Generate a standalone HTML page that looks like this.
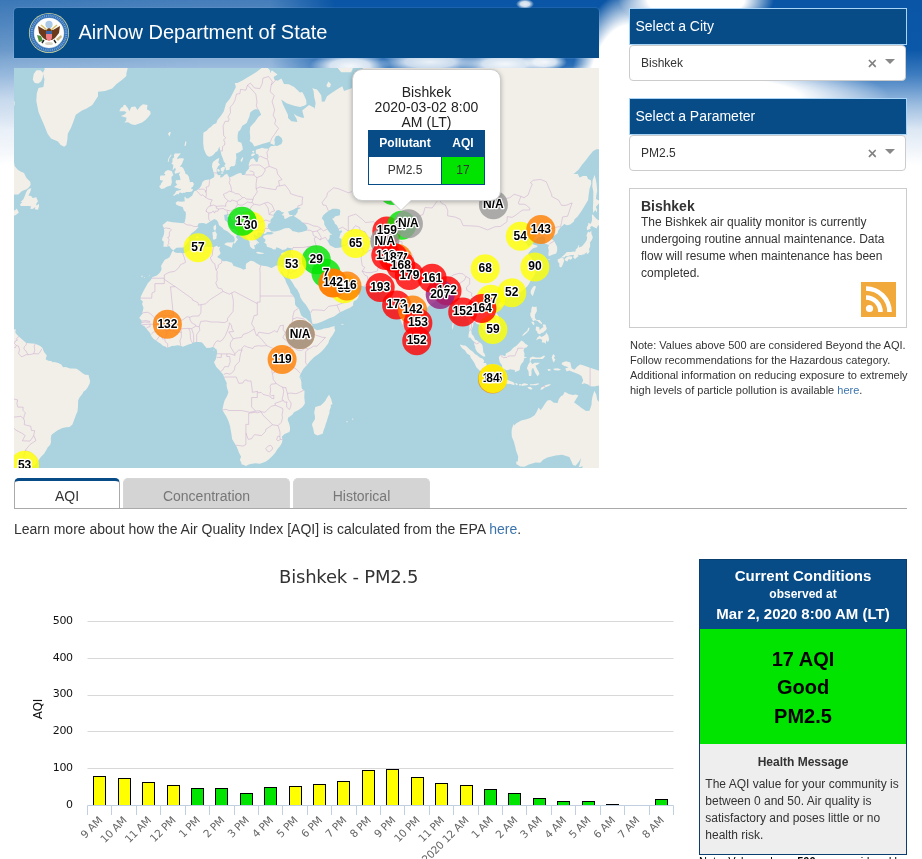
<!DOCTYPE html>
<html lang="en">
<head>
<meta charset="utf-8">
<title>AirNow Department of State</title>
<style>
*{box-sizing:border-box;}
html,body{margin:0;padding:0;}
body{width:922px;height:859px;overflow:hidden;position:relative;background:#fff;font-family:"Liberation Sans",Arial,sans-serif;color:#333;font-size:12px;}
a{color:#3b74ad;text-decoration:none;}
.abs{position:absolute;}
#sky{position:absolute;left:0;top:0;width:922px;height:230px;
 background:linear-gradient(to bottom,#0a55a5 0px,#0c58a8 50px,#3f7dc0 75px,#9dbde0 105px,#dde8f4 130px,#fff 165px);}
#skyL{position:absolute;left:0;top:0;width:340px;height:230px;
 background:linear-gradient(to bottom,rgba(255,255,255,.24) 0px,rgba(255,255,255,.36) 30px,rgba(255,255,255,.5) 60px,rgba(255,255,255,.6) 100px,rgba(255,255,255,0) 200px);
 -webkit-mask-image:linear-gradient(to right,rgba(0,0,0,.85) 0px,#000 200px,#000 270px,transparent 335px);mask-image:linear-gradient(to right,rgba(0,0,0,.85) 0px,#000 200px,#000 270px,transparent 335px);}
#skyC{position:absolute;left:0;top:0;width:922px;height:230px;
 background:
  radial-gradient(ellipse 78px 30px at 696px 0px,#fff 0,#fff 62%,rgba(255,255,255,0) 100%),
  radial-gradient(ellipse 9px 5px at 525px 4px,rgba(255,255,255,.9) 0,rgba(255,255,255,.8) 50%,rgba(255,255,255,0) 100%),
  radial-gradient(ellipse 62px 125px at 630px 115px,#fff 0,#fff 72%,rgba(255,255,255,0) 100%),
  radial-gradient(ellipse 200px 40px at 690px 98px,#fff 0,#fff 55%,rgba(255,255,255,0) 100%),
  radial-gradient(ellipse 40px 14px at 350px 66px,rgba(255,255,255,.95) 0,rgba(255,255,255,.8) 50%,rgba(255,255,255,0) 100%),
  radial-gradient(ellipse 50px 12px at 430px 62px,rgba(255,255,255,.9) 0,rgba(255,255,255,.75) 50%,rgba(255,255,255,0) 100%),
  radial-gradient(ellipse 45px 13px at 505px 64px,rgba(255,255,255,.95) 0,rgba(255,255,255,.8) 50%,rgba(255,255,255,0) 100%),
  radial-gradient(ellipse 22px 9px at 545px 62px,rgba(255,255,255,.95) 0,rgba(255,255,255,.8) 50%,rgba(255,255,255,0) 100%);}
#hdr{left:14px;top:8px;width:585px;height:50px;background:#054b87;border-radius:4px 4px 0 0;color:#fff;box-shadow:0 0 0 1px rgba(200,230,252,.1);}
#hdr .t{position:absolute;left:64.5px;top:12.5px;font-size:20px;line-height:23px;white-space:nowrap;}
#seal{position:absolute;left:14px;top:4px;}
#map{left:14px;top:68px;width:585px;height:400px;background:#aad3df;overflow:hidden;}
#map svg{position:absolute;left:0;top:0;}
.mk text{font:bold 12px "Liberation Sans",Arial,sans-serif;text-anchor:middle;fill:#000;stroke:#fff;stroke-width:2.6px;paint-order:stroke;stroke-linejoin:round;}
#popup{left:338px;top:1px;width:149px;height:132px;background:#fff;border:1px solid #ccc;border-radius:10px;box-shadow:0 1px 5px rgba(0,0,0,.28);text-align:center;font-size:14px;line-height:15px;color:#222;padding-top:14.6px;letter-spacing:.08px;}
#popup:after,#popup:before{content:"";position:absolute;top:100%;border:solid transparent;height:0;width:0;}
#popup:after{border-top-color:#fff;border-width:10px;left:48px;margin-left:-10px;}
#popup:before{border-top-color:#ccc;border-width:11px;left:48px;margin-left:-11px;}
#ptab{position:absolute;left:15px;top:60.3px;width:117px;letter-spacing:0;border-collapse:collapse;font-size:12px;line-height:14px;}
#ptab th{background:#074b87;color:#fff;font-weight:bold;height:26px;padding:0 0 2px;border:1px solid #074b87;}
#ptab td{height:28px;padding:0 0 2px;border:1px solid #074b87;background:#fff;color:#333;}
.lab{background:#074b87;color:#fff;font-size:14px;line-height:16px;padding:9px 5.4px;height:37px;width:278px;left:629px;border:1px solid #a9d6f8;}
.sel{left:629px;width:277px;height:36px;background:#fff;border:1px solid #ccc;border-radius:4px;font-size:12px;line-height:34px;padding-left:11px;color:#333;}
.sel .x{position:absolute;left:237.6px;top:0;font-size:16.5px;line-height:35.4px;color:#7d7d7d;-webkit-text-stroke:.35px #7d7d7d;}
.sel .ar{position:absolute;left:255px;top:13.2px;width:0;height:0;border:5px solid transparent;border-top-color:#888;border-bottom-width:0;}
#info{left:629px;top:188px;width:278px;height:140px;border:1px solid #ccc;background:#fff;padding:8.8px 11px 0;font-size:12px;line-height:17px;color:#333;}
#info b{display:block;font-size:14px;line-height:16.6px;color:#333;}
#rss{left:861px;top:282px;width:35px;height:35px;}
#note{left:630px;top:338px;width:290px;font-size:11px;line-height:15px;color:#333;}
.tab{top:478px;height:31px;border:1px solid #d6d6d6;border-bottom:none;border-radius:5px 5px 0 0;background:#d4d4d4;color:#777;font-size:14px;line-height:16px;text-align:center;padding-top:9px;}
.tab.act{background:#fff;border:1px solid #aaa;border-bottom:none;border-top:3px solid #074b87;color:#333;padding-top:7px;}
#tabline{left:14px;top:508px;width:893px;height:1px;background:#aaa;}
#learn{left:14px;top:521px;font-size:14px;line-height:16px;color:#333;white-space:nowrap;}
#chart{left:0;top:550px;}
#chart text{font-family:"DejaVu Sans","Liberation Sans",sans-serif;}
#cc{left:699px;top:559px;width:208px;height:296px;border:1px solid #0a3e70;background:#eee;}
#cc .h{height:69px;background:#074b87;color:#fff;text-align:center;font-weight:bold;font-size:15px;padding-top:6px;}
#cc .h div{line-height:19px;}
#cc .g{height:115px;background:#00e400;color:#000;text-align:center;font-weight:bold;font-size:20px;line-height:28.3px;padding-top:16.1px;}
#cc .hm{text-align:center;font-weight:bold;font-size:12px;line-height:14px;color:#333;padding-top:11px;}
#cc .p{padding:7px 5px 0 5.3px;font-size:12px;line-height:17px;color:#333;}
#note2{left:699px;top:853.9px;width:215px;font-size:11px;line-height:15px;color:#000;white-space:nowrap;}
</style>
</head>
<body>
<div id="sky"></div><div id="skyL"></div><div id="skyC"></div>
<div id="hdr" class="abs">
<svg id="seal" width="42" height="42" viewBox="-21 -21 42 42">
<circle r="20.1" fill="#cfd59a"/><circle r="19.3" fill="#2d6db2"/><circle r="17.3" fill="none" stroke="#9dbfe6" stroke-opacity=".65" stroke-width="2.2" stroke-dasharray="1 .9"/><circle r="15.4" fill="#7fa6d3"/><circle r="14.9" fill="#fdfdfb"/>
<circle cx="0" cy="-8.6" r="3.6" fill="#a9c9e6"/><circle cx="0" cy="-3.4" r="1.7" fill="#f4f1e8"/>
<path d="M-11,-7 L-4,-3 L0,-5 L4,-3 L11,-7 L10,0 L6,5 L3,7 L-3,7 L-6,5 L-10,0Z" fill="#6b3a1c"/>
<path d="M-8,-8 L-2,-3 M8,-8 L2,-3" stroke="#d8c26a" stroke-width="1.6"/>
<path d="M-3,-2 h6 v3 h-6z" fill="#3a66a8"/>
<path d="M-3,1 h6 v3 q0,3 -3,4 q-3,-1 -3,-4z" fill="#ef7f86"/>
<path d="M-12,2 l4,1 l2,5 l-4,1 z" fill="#4d8f3a"/>
<path d="M7,6 l5,-4 l1,2 l-4,4z" fill="#c9b98a"/>
<path d="M-5,7 l-2,3 M5,7 l2,3" stroke="#222" stroke-width="1.4"/>
<ellipse cx="0" cy="10.5" rx="4" ry="1.6" fill="#d9d3c6"/>
</svg>
<div class="t">AirNow Department of State</div></div>

<div id="map" class="abs">
<svg width="585" height="400" viewBox="0 0 585 400">
<path fill="#f2efe9" d="M601.7,-20 601.7,79.8 590.3,81 582.3,81.2 578.9,83.2 574.6,88.6 571.8,92.3 568,96.8 564.7,101.6 561.3,104.6 559.6,106.1 563.8,106.1 565.5,109.5 569,108 572.7,108 574.1,110.9 576.9,112.3 577.2,115.7 575.5,121 574.6,127.5 574.1,131.9 570.4,138.3 567.5,142.9 563.6,148.4 560.4,151.4 559.9,153.5 556.2,156.5 553,157.2 550.2,156.1 548.2,158 546.6,159.2 544.2,162.6 543.6,165.3 539.7,167.9 538,168.6 537.5,170.8 540.2,173 543.1,178.8 543.2,182.3 542.2,185.5 539.1,186.5 534.8,188.2 534.3,186.5 534.8,182.3 534,179.5 535.1,177 530.6,175.5 531.4,172.6 531.1,169.7 528.8,168.2 524.9,169.3 520.9,171.9 519.5,171.6 521.7,167.9 522.6,165.6 519.2,164.5 515.2,168.2 510.6,170.8 509.8,171.6 509.5,173.7 513.2,175.9 514.1,178.4 516.3,177.3 518.3,175.9 520.3,176.8 523.4,177.7 523.2,179.1 519.2,180.2 517.2,182.1 514.9,184.4 514.1,186.5 517.2,189.3 518.9,192.7 521.2,196 521.7,197 521.7,199.7 518.9,201.4 520.9,202.7 522,203.3 520.9,206.3 519.2,209.2 517.2,211.7 515.2,215.6 513.5,218.1 511.2,220.3 506.9,224 503.5,225.9 499.8,227.1 497.8,227.4 495,228.6 492.2,229.6 489,230.5 489.3,233.2 487.6,233.2 487,229.9 485.3,229.6 483.1,229.3 481.9,229.6 478.8,231.7 477.9,233.5 476.2,236.2 475.8,238 477.9,241.3 479.6,243.1 481.3,244.6 482.9,245.8 484.8,248.2 485.8,252.6 486.2,255.5 485.6,258.1 484.8,259.8 482.5,261 479.6,262.6 478.5,264.2 477.1,265.6 474.5,267.1 473,267.6 473.2,265.1 473.8,263.6 472.2,262.5 470.8,262 469.4,261.9 468,259.3 466.6,257.5 465.1,256.4 463.1,255.9 462,255.2 461.2,253.4 459.4,254 459.3,256.4 458.9,258.4 457.2,262.2 457.7,265.9 459.7,268.2 461.2,271.7 463.1,272.5 464.8,274 466,274.5 468.4,277 469.1,281.4 469.3,284.2 470.4,285.4 471.5,288.2 470.3,288.5 469.4,288.5 465.8,285.9 464.6,285.1 463.1,283.7 461.4,280.8 461.2,278.5 460.3,276.8 460.3,274.2 459.6,273.4 457.5,271.1 456.3,269.4 454.6,269.7 454.5,267.1 455.2,263.9 455.5,256.7 454.3,251.7 453.2,248.2 452.6,244.6 450.9,242.5 449.5,244.3 448.9,244.6 446.1,246.7 444.1,246.4 443.1,246.1 443.5,242.2 443.2,237.7 441,235.3 439.2,233.8 437.5,231.7 436.7,229.9 436.1,227.1 434.4,226.2 432.7,228 429.6,228.9 427,229.3 425.3,228.9 423.3,229.6 422.2,231.7 421.6,233.2 419.1,234.7 417.1,236.2 416.5,236.5 411.9,241 409.1,243.4 409.1,244.6 406,246.4 403.4,248.2 402.8,250.8 403.4,254.6 402.1,258.1 402.1,261.3 402.1,262.7 400.6,262.7 399.7,264.8 400.3,265.6 397.3,267.1 395.6,269.1 393.7,267.9 391.7,263.8 390.5,260 387.8,255.2 385.8,249.6 384.9,247.9 383.5,243.1 382.1,237.3 381.9,234.7 382.1,232.9 381.6,230.8 381.2,227.4 380.4,228.8 378.1,231.5 377,232 375.1,231.4 373,229.1 371.1,227.3 371.6,226.5 374.7,226.2 375.2,224.9 372.3,225.6 370.1,224 369,222.8 367,222.2 366.1,220 365.4,219.3 364.4,217.5 360.7,217.6 358.8,218.1 355.6,217.9 352.2,218.4 350.5,218.4 347.4,217.8 342.8,217.5 339.4,216.7 337.4,214 336.6,212.1 335.1,211.9 331.2,213.8 326.6,213.3 324.6,211.1 323.2,209.8 319.6,206.1 317.8,202.7 314.9,201 313.2,202.8 311.5,204.6 311,204.8 311.5,204.8 312.7,207.6 314.1,210.5 316.2,212.4 317.8,214.1 317.8,216.8 319.5,219.5 319.5,217.1 320.6,215.1 321.6,217.8 321.8,220 320.9,220.9 324.6,221.2 327.5,221.5 329.7,220.3 332.3,217.8 334.3,216 335.4,214.5 335.3,216.8 335.3,218.4 336.4,220.8 341.5,223.1 342.8,224.9 344.4,226.3 345.1,226.5 344,229.9 342.3,232 340,232.9 339.1,235.2 339.1,237.4 336,239.8 332,241.6 328.9,243.1 326,244.2 323.5,246.1 320.1,248.4 314.7,250.5 311.5,252 307.8,253.7 303,255.5 298.7,255.9 298,254 297.2,249.6 296.7,246.1 296,243.4 293,238.6 291.9,236.8 288.8,233.2 286.4,229.6 285.6,226.2 283.2,221.5 280.8,218.7 278.7,214.9 276.3,211.4 274.6,209.2 274,208.9 274.6,204.3 274.3,204.3 273.1,208.2 272.6,210 270.6,208.2 268.9,205.9 267.6,202.8 267.2,204.3 268,206.3 269.4,208.5 271.3,211.6 271.7,213.3 272.6,215.3 274.3,218.6 276,222.2 276.5,224.9 279.2,227.4 280.8,231.1 281,235.3 281.2,236.8 283.1,239.2 284.8,240.1 285.9,243.7 287.2,247.3 289.3,249.2 292.2,250.5 294.5,252.9 296.6,254.9 298.2,256.4 298.2,258 296.2,259.1 297.7,259 298.7,259.7 303,262.3 307.3,261.4 310.1,260.4 312.1,260.3 314.9,259.8 318.6,258.5 320.9,258.3 320.4,260.1 321.2,262.3 319.8,265.1 318.1,267.9 316.8,269.4 315.2,272.2 314.4,275.1 313,277 310.1,280.8 307.3,283.7 304,286.4 302.4,287.4 300.2,289.1 296,293.2 293.3,296.8 291.3,298.7 289.1,301.3 287.8,303.7 286.2,306.7 285.4,309.3 286.8,311.6 287.4,314.5 287.4,317.6 287.9,320.8 289.3,321.7 290.5,322.8 290.3,329.5 290.8,334 290.9,335.5 288.5,338.9 284.5,341.9 280,344.3 278.3,346.7 274.1,349.8 273.7,352.1 274.8,354.8 275.4,356.4 276,359.5 276,362.1 275.4,364.1 270.6,366 267.7,368.7 268.6,371.5 268,374.6 266.3,377.8 263.3,381.2 261.6,384.2 258.9,387.4 254.4,391.7 251.5,393.8 248,395 245.7,395.8 241.6,395.3 238,395.8 234.7,396.5 231.9,398 229.9,396.9 227.5,396.3 227.3,394.8 225.9,391.7 227.1,388.7 225.1,385 224.2,382.7 222.9,379.3 221.8,377.2 218.1,370.9 217.4,365.7 216.2,359.3 216.2,358.5 214.5,353.3 212.5,348.8 210.6,345.8 208.4,342 209.6,336 210.6,332.4 213.1,328 214.4,324.3 213.1,320.2 212.5,317.3 212.8,315 211.4,312.2 210.1,309.6 209.7,308 208.7,305.9 206.3,303.3 205.3,301.9 202.3,299 200,294.2 201.9,291.1 202.3,289.4 202.7,286.9 203.2,283.8 202.3,281.1 201.2,280.8 200.3,279.4 198.6,279.1 196.3,279.7 192.6,280 190.4,277.4 189.2,275.7 187.5,274.2 184.7,274 181.8,274.1 178.4,274.8 177.6,275.7 174.4,276.4 171.4,277.7 170,278.2 169,278.7 166.5,277.7 163.6,277.2 160.8,277.7 157.6,278.1 156.2,278.7 153.1,279.8 150.8,278.2 149.3,278 146.4,275.4 144.3,274.2 142.7,273 139.4,270.8 137.3,267.9 136,265.1 133.5,261.9 132.3,260.7 130.6,258.3 128.4,257.2 127.2,256.4 127.8,253.6 127.2,252 125.2,249.9 128.1,246.1 129.5,239.8 128.1,235.9 128.9,233.5 126.5,231.4 126.9,228.3 129.6,222.8 133.8,215.3 136.9,212.1 138.2,209.3 142.9,207.6 146,204.6 147.6,201.4 147.1,197.7 148.7,195 150.8,191.8 153.4,190.6 155.5,189.3 157.5,185.1 158.5,183 159.8,182.7 159.1,182.3 157.1,180.5 155.2,178.1 152.5,178.8 149.4,178.8 149.7,175.4 149.7,173.4 148,172.3 148.3,170.3 149.7,167.3 150.3,163.6 149.7,159.6 148.5,156.9 151.1,154.9 153.1,153.3 158.8,154.3 164.2,154.7 166.5,155.1 169.3,155.3 170.6,154.5 171.6,150 171.9,146.1 171.7,143.9 169.9,142.4 168.7,139.1 166.2,138.3 162.6,137 161.5,134.7 163.6,133.2 167.2,133.8 169.3,133.4 170.7,133.4 170.4,129 171.4,128.8 171.9,130.3 174.1,130.6 175.3,129.7 178.1,127.7 179.6,124.4 180.3,123.2 181.8,122.8 183.2,121.9 185,120.7 187.1,118 188.5,114 190.6,112.3 194.6,111.6 195.2,111.9 197.8,110.4 199.7,109.5 200.3,108.5 200.3,106.6 199.5,104.6 198.9,101.6 198,99.1 198.3,95.5 199.5,93.4 203.3,90.8 205.2,90 205,91.5 204.3,94.4 206,96.8 204,98.3 202.6,101.6 202.9,105.1 203.9,107.3 206.6,107 206,109.2 207.6,109.5 209.4,108.3 210.6,106.8 213.1,105.8 214,107.5 215.5,109.5 219.2,108 221.9,106.6 224.8,105.3 227.3,105.1 228,107 230.5,107 231.6,105.8 231.7,104.3 235,100.6 234.7,96.5 236.3,91.8 239.3,90 241,92.3 242.1,93.9 243.6,93.7 244.4,90.2 244.7,86.7 241.8,85.4 241.8,83.5 241.8,81.9 243.4,81.2 245.4,80.7 248.4,79.8 250.4,80.4 254.8,80.7 256.1,78.7 257.6,78.1 260.9,78.1 259.5,76.7 256.4,75.6 256.6,73.5 251.7,75 248,75.9 246,76.7 240.3,78.6 238.3,75 235.6,73 236.2,71.2 236.2,68.2 235.7,64.3 236.2,59 239.6,55.2 240.7,54.3 244.5,48.7 247.2,46.7 244.8,41.6 243.7,41.2 240.8,41.2 238,42.9 236.2,44.7 235.3,48.7 232.7,54.9 228.3,57.8 226.1,62.2 224.4,63.4 223.6,67.6 223.6,70 223.9,73.5 227.3,74.7 228.5,78.7 228.8,81.5 226.1,83.7 223.6,85.1 221.9,85.4 222.4,90 221.8,92.6 221.5,95.7 220.5,98 219.4,98.3 217.2,98.3 215.7,99.6 215.8,101.3 214.3,102.1 212.4,102.3 211.6,102.1 212,101.1 211.1,98.8 210.4,97.5 211.6,95.7 209.8,93.4 208.8,90.2 207.4,87 206.7,83.5 206.1,82.3 205.4,78.4 203.4,83.2 201.7,84 199.9,86.2 197.8,88.1 195.1,88.7 193.6,88.1 192.1,86.2 190.9,83.5 189.9,81 189.2,75.3 189.2,71.2 189.2,68.2 189.5,64.6 192.4,63.1 194.9,60.3 196.9,59 199.2,56.5 202.3,55.2 203.4,52 206.9,47.7 209.7,43.6 210.8,39.8 212,35.6 216,30.5 218.8,25.3 221.9,19.1 220.8,15.1 223.4,15.1 228.9,12.3 233.3,9.4 237.6,6.9 242.4,3.9 248.4,-0.6 253.8,0 256.1,2.6 256.1,5.2 257.8,2.2 263.5,6.4 259.6,9 260.5,11.8 263.7,12.7 267.4,10.6 270,15.9 274.8,16.3 280.2,19.1 285.9,24.5 288.2,24.1 290.2,27.5 292.2,32.3 292.5,36.3 290.2,37.7 285.9,39.1 280.2,37.7 272.6,35.2 267.2,31.6 268.9,36.3 274,47 274,50 277.4,53.3 283.4,53.9 282.5,50.7 279.7,45.7 283.1,48 288.2,49.7 290.2,49.7 288.8,44.7 288.2,42.6 291.6,39.8 295,37 300.2,39.8 300.7,40.9 301.6,34.9 300.2,29 299.6,23 298.2,20.3 303,21.4 305.8,25.3 307.3,27.5 307.8,33.8 310.7,33.4 313,28.3 317.2,25.3 322.9,21.4 328.3,18.3 330,23 337.1,20.6 340,19.1 344.2,22.2 347.1,17.5 347.4,11.8 351.4,-20Z"/>
<path fill="#aad3df" d="M159.8,182 162.5,179.8 168.2,179.5 169,179.8 172.2,176.6 175.6,172.6 174.1,169.7 177.6,165.3 181.3,162.6 184.4,159.2 183.5,157.2 185,155.3 188.7,154.9 190.4,155.3 192.1,156.1 195.8,153.7 200.3,151 202.9,152.2 204.3,154.5 204.9,156.9 208.6,159.9 209.7,161.5 213.7,163.4 215.4,164.9 217.7,167.1 219.4,167.9 220.5,170.1 220.8,172.6 219.5,174.5 219.7,175.4 220.8,175.4 222.2,173.4 223.9,171.6 221.9,169 223.1,166.4 223.9,166 226.2,168.1 227.6,167.5 226.2,165.4 223.1,163.7 221.1,160.7 218,160.5 215.4,158.4 213.4,154.1 210.8,152.2 210.3,148.6 210,146.9 214.3,146.1 213.4,148.6 214.5,149.4 216,147.3 218.2,152.2 221.6,154.5 226.5,157.8 229.3,159.9 230.3,163 230.2,166.2 231.9,169 233.9,171.6 235.6,174.1 235.6,176.3 236.4,179.1 239,180.9 241,180.7 240.1,177 241.8,177.2 242.3,175.4 243.3,176.4 243.6,174.5 240.4,171.9 241.3,170.5 240.1,169.3 239.3,167.9 240.1,165.6 241.6,166.9 243.1,168.1 244.4,167.3 242.7,165.6 244.4,164.5 248.7,164.7 249.5,165.6 250.9,166 253.2,164.1 257.2,163.9 260,165.1 257.2,166.6 253.2,166.6 249.5,167.7 249.2,169.7 251.5,171.6 251.2,173.7 249.8,174.1 252.4,176.3 252.9,178.8 255.5,179.5 257.8,180.2 259.2,181.6 261.8,181.3 262.3,179.3 266,180.5 268.3,182.1 271.7,181.3 273.4,179.5 276.3,180.2 278,180.2 277.1,182.3 276.8,184.1 276.8,187.7 276,189.6 274.6,193.3 273.8,195.9 273,197.7 272.3,198.4 271.1,199 268.9,199.2 266.9,198.4 265.5,197.7 263.2,197.4 261.3,197.7 260,198.7 257.5,199.9 252.7,198.2 246.7,197.4 243.3,195.7 240.7,194 239.3,193.3 236.4,192.8 232,195.7 231.7,199.4 232.2,200.4 229.6,201.7 226.2,200 222.2,198.7 219.4,197.7 218,194.7 215.7,194 212.5,193 209.1,193.2 207.7,192.2 206.6,191 203.4,189.3 203.7,188.2 205.7,186.8 206.6,185.1 205.7,183 205.2,180.9 206.4,178.6 204.3,179.3 203,177.7 200,178.9 197,179.1 194.6,179.1 192.9,178.6 189.5,179.7 186.4,179.1 183.7,179.5 180.7,180.2 178.7,180.5 175.3,182.5 173.2,183.4 171.3,184.8 168.7,185.5 166.6,184.8 163.9,184.9 161.3,184.6 159.9,183.7 159.8,182.7 159.1,182.3ZM257.5,163.4 254.6,160.7 253.5,158.4 254.5,155.7 256.4,154.9 256.5,151.8 259.5,148.6 259.2,146.9 262.5,142.4 264.6,142 266,142.4 267.7,144.1 270.3,144.5 267.7,146.9 270,147.8 270.3,150.2 271.1,151 272.3,150.6 275.7,148.6 278.8,147.8 278.5,146.9 275.7,146.9 274,143.7 279.7,141.4 282,140 285.6,139.5 286.8,140 283.9,141.6 283.5,144.3 281.4,147.3 279.7,147.8 281.1,149 282.5,149.8 286.2,152.2 287.9,154.1 291.6,156.5 293.5,159.8 293.3,161.7 292.8,162.6 287.9,164.1 284.2,164.5 282.8,164.1 278.3,163 277.1,161.5 275,160.1 271,160.3 265.5,162.4 261.2,163.4 259.2,163.4 257.8,163.4ZM311.5,145.3 314.4,142.9 318.6,140.8 322.9,140.8 325.8,141.6 326.3,143.3 325.8,147.3 320.9,148.6 319.8,150.2 318.1,150.6 320.5,153.9 320.9,155.7 322.9,157.2 324.3,160.3 325.5,163 327.5,162.2 328.3,163.7 326.6,165.3 325.8,167.9 325.2,170.1 327.5,170.8 328.3,175.2 328.3,177.7 328.6,179.1 324.8,179.8 321.2,180 315.8,177.2 314.1,173.7 314,172.5 315.5,170.3 315.8,167.1 318.4,166.6 316.4,165.6 314.4,163 312.4,160.1 310.3,156.5 310.1,153.3 307.8,150.2 309.3,147.3 311,145.7ZM260.3,77.6 263.2,77.9 267.4,75.9 268.6,73 267.7,70 264.6,67.6 261.8,68.2 260.3,71.8 260.9,74.7Z"/>
<path fill="#f2efe9" d="M158.8,127.3 160.8,125.7 162.2,123 166.5,122.1 167.3,120.7 165.9,121 163.6,120.3 159.9,118.9 161.6,118 163.3,116.6 161.6,114.7 161.9,112.3 166.5,111.9 165.9,108.5 164.8,106.6 166.5,104.3 163.6,105.1 161.1,105.8 160.5,104.1 161.8,101.8 161.1,99.6 158.5,102.6 159.1,99.1 159.4,97 157.4,95.5 158.5,93.9 158.5,90.8 160.2,89.2 159.9,87.3 160.8,85.4 165,85.4 166.5,85.1 166.2,86.2 163.6,89.2 163.1,91.3 165.6,90.2 169.3,90.2 169.9,91.3 169,93.1 167.9,96 167,97.3 165.9,99.1 167.6,98.8 169.3,100.3 171,104.1 171.6,106.1 173.3,106.6 174.7,108.5 175.3,110.9 175.9,113.3 175.6,114.2 176.4,114 178.7,114.1 180,116.1 178.8,118.7 177.6,119.6 177,120.7 179,121.2 178.7,122.6 177.7,123.5 175.7,124.1 174.6,123.9 171.9,123.9 171.3,124.8 169.3,124.8 168,125.3 166.5,124.4 165.3,124.8 164.6,126.6 163.2,125.9 160.6,127.5 160.2,127.7ZM154,102.1 157.5,103.1 158.5,104.8 158.8,106.1 159.4,107 157.4,109 157.6,112.1 157.9,114 156.9,117.5 155.1,118 152.7,118.7 151.4,119.4 150.8,120.3 147.1,121 146,119.4 145.4,118.9 145.3,118 146.8,117.1 146.8,115.9 148.3,113.8 149.4,112.8 146,111.9 146,109 146.6,107.5 150.5,107.5 151.4,106.6 150,105.6 151.4,103.3ZM111.3,36.7 114.1,40.5 115.3,43.3 117.3,39.1 121.2,38.4 123.5,41.9 125.8,38.8 128.9,36.3 133.5,37 132.9,41.2 136.3,43.3 136.6,46 134.3,49 131.8,51.7 128.1,54.6 121,57.1 117.3,56.2 114.1,54.3 110.4,54.6 112.4,52.3 112.1,51.3 112.7,49.7 106.7,48 110.1,46.7 112.4,44.7 111,43.3 105.3,43.3 107,39.8 109,39.1 109.6,37ZM31.1,-20 30.5,1.7 29.1,4.3 29.9,9.4 30.5,11 29.9,15.9 29.4,19.1 24.5,19.9 22.8,25.3 22.3,33.1 24.5,44 27.9,52 29.9,56.5 33.6,65.8 37,70.6 44,73.5 46.4,76.7 50.1,78.7 52.4,77 53.3,71.8 53.8,65.8 57,59.7 59.5,53.3 61.8,46.7 68,42.6 72.6,40.5 78.3,37 84,28.3 84,23.7 91.1,23 98.2,20.6 102.5,15.9 108.2,11.8 112.4,8.1 112.4,5.2 113.6,0.8 113.3,-20ZM18.8,11.8 19.7,6 22.5,2.2 26.5,2.2 29.4,5.2 28.5,10.2 27.1,13.5 24.2,15.5 20.8,15.1ZM-7,85.9 -1.4,90.8 0.1,94.4 0.6,98 3.8,101.8 6.6,103.6 10,105.1 11.4,108 12.9,110.4 16.3,113.8 16.6,117.1 14.6,119.8 12.6,121.2 8,123 4.3,126.6 -7,126.6ZM-7,29 0.6,33.4 0.4,37.7 -7,41.2ZM17.4,120.3 16,124.4 14.3,127.5 17.1,127.9 18.6,130.1 22.5,129.2 22.8,130.8 24,133.2 22,136.2 22.8,137.4 24.8,135.7 25.1,138.1 24,141.8 20.8,141.2 21.4,139.1 18.6,141 16.3,140.8 17.1,138.3 14.3,137.9 11.4,137.9 6.8,137.9 6,136.6 8.3,134 6.6,134 9.2,131.4 10.3,129.2 12,124.8 13.4,122.1 15.7,120.5ZM-7,148.6 1.5,147.3 4.3,145.1 4.9,144.5 3.5,142 2.9,140.4 1.5,142 -7,145.3ZM-7,261.6 1.5,261.9 1.5,265.1 4.3,267.9 9.6,272.8 12.3,275.1 18,275.4 21.4,275.7 26.2,278.1 28.5,280 29.9,283.7 32.8,287.4 31.6,291.3 34.2,292.8 37.3,293.1 38.5,294.2 40.3,293.9 44.2,295 47.3,296.5 49,299.3 51.6,299 56.1,300.5 58.8,300.5 62.6,300.7 65.5,302.7 68.9,305.6 71.2,306.7 74.6,307 74.9,308.7 76,312.4 75.8,315.2 73.5,319.8 71.5,322.2 69.6,323.4 68.3,326 65.5,329.5 64.1,332.4 64.1,334.8 63.9,339.6 63.5,343.4 62.1,346.4 60.4,351.2 58.4,356.4 55.5,359.1 52.1,359.3 48.4,360.1 43.3,362.6 38.8,365.7 37.3,367.3 36.8,370.4 37,373.9 36.2,376.8 33.6,379.4 32.5,381.7 29.9,386 26.8,388.9 23.1,394.3 21.4,396.5 18.7,398.5 15.1,398.2 10.4,396.7 8.9,397.2 12,399.6 12.9,409.2 -7,409.2ZM315.2,326.6 315.5,327.7 317.2,331 318.1,335.1 318.6,336.2 316.7,336.8 316.9,338.9 315.5,342.5 315.5,344.7 314.1,348.8 312.5,353.9 311.5,356.8 311,358.8 309.5,362.6 308.7,365.8 303.4,367.6 300.2,365.7 299.2,360.5 298,357 298.3,355.6 300.9,351.2 301,348.8 300.2,344.4 301.3,338.9 303.9,338.3 306.7,337.4 309.3,335.1 311.2,333 312.4,330.7 313.8,328.6ZM403.1,264.1 405.1,266.5 406.1,267.6 407.4,270.2 408,272.2 407.4,274 405.7,274.8 404.3,275.3 403.1,275 402.1,272.5 402,269.4 402.3,266.6 402.3,264.5ZM484.2,236.2 485.9,234.4 488.7,233.8 490.7,235 489.3,237.7 486.8,239.5 484.2,238.6ZM520.6,217.8 522,218.7 520.9,221.8 519.7,225.6 518.8,228.3 517.2,226.2 516.6,224.6 516.9,222.5 518.3,220 519.2,218.7ZM547.3,189.6 549.6,190.6 550.2,192.7 548.8,196.4 547.9,198.4 546.8,199.4 545.3,198.5 545.3,195.4 543.9,193.7 543.6,191.6 545.9,190.6ZM552.5,189.3 555,188.2 557.9,188.6 558.3,189.9 556.7,191.8 554.7,191 553.3,193.5 551.6,192.7 550.5,191.3ZM547.3,189.3 548.8,187.9 550.8,186.2 552.5,184.2 554.2,183.9 556.7,183.9 559.6,183.4 561.3,183.7 561.8,181.6 563.8,179.5 564,177.7 565.5,177 564.7,178.4 565.3,179.5 568.1,178.2 570.4,175.5 571.8,173.4 572.8,171.9 573.2,169 572.4,168.1 573.2,165.6 574.1,163.4 575.8,164.5 577.2,162.6 577.5,166 578.8,169.2 577.8,171.9 576.1,174.3 576.1,178.8 574.9,181.3 575.6,183.4 574.1,185.5 572.8,186.2 572.7,183.7 572.1,185.1 570.7,185.5 570,187.2 569,185.8 568.1,187.2 566.4,187 564.7,187.2 563.8,185.8 564.4,188.2 562.7,189.6 561.1,191.1 559.3,189.6 559.4,188.6 560.1,187 559,187 556.2,187.2 553.3,188.2 551.6,188.1 550.5,189.4 547.6,189.3ZM573.2,162.2 575.2,161.3 576.6,161.1 576.1,159.2 577.8,158 582.5,160.5 583.7,158 585.7,156.5 589.2,155.3 588.3,151.4 585.5,152.5 582.9,151.2 580.3,148.6 578.8,146.5 577.9,146.9 578.1,150.6 577.9,152.7 576.9,155.7 574.2,155.1 574.1,157.2 572.7,159.6ZM580.6,107 581.8,111.4 582.6,116.1 583.2,123 582.3,127.5 582,131 586.6,133.4 581.8,139.1 582.9,141.2 582.9,144.5 581.2,142 579.2,144.9 578.9,140.4 579.2,134 579.3,127.5 579.3,123.5 578.3,118.4 578.6,112.3ZM518,238.6 520.9,238.9 522.6,238.6 522.9,243.1 520.9,246.7 520.9,249.9 522.6,252 525.7,252 528,254.9 528,256.2 525.7,254.9 523.7,253.1 521.2,252.3 519.2,252.9 518,251.4 519,250.2 517.8,250.7 517.2,249.6 516,246.7 516.9,245.9 515.8,245.2 517.2,244.3 517.3,241.5ZM517.2,253.7 519.5,253.7 520.6,256.1 519.7,257.2 518.6,256.1ZM508.4,268.2 509.5,267.4 512.4,265.3 514.9,262.5 515.5,259.8 514.3,259.8 513.2,262.7 510.6,264.8 508.7,266.8ZM522,258.4 525.2,259 525.7,262.2 527.7,260.1 529.4,259.3 528.6,256.4 531.4,256.4 532.8,260.7 531.1,263 530,263.6 529.4,264.5 527.7,264.8 526,266.2 523.4,265.3 523.2,263.6 521.7,262.2ZM522.2,272.5 523.2,269.7 525.9,267.6 527.1,269.1 529.6,267.9 531.7,266.2 532,264.2 534.3,267.4 535.1,271.4 534,274.2 532.3,272.2 531.7,276.2 531,274.8 527.7,274.2 528.3,271.7 526,270.8 524.3,271.1ZM486.9,286.4 488.9,287.4 491.3,288.2 491.9,285.4 496.4,283.1 499.3,279.7 502.1,278 505.1,275.1 507.4,272.5 509.8,274 510.9,275.5 514.1,277.4 512.4,279.4 510.4,280.1 509.5,282.8 510.6,285.7 510.1,288.5 513.2,289.4 510.4,289.9 509.2,293.9 507.4,295.8 506.1,298.5 505.8,301.6 505,302.4 501,304 500.7,301.9 496.4,301.3 493,302.2 488.5,300.5 487.9,297.3 485.9,294.2 485.3,292.2 484.8,289.4 485.9,287.4ZM446.1,276.4 449.5,277.4 451.3,277.4 453.8,279.4 455.7,281.4 458.9,283.7 460.9,285.9 463.4,287.4 465.7,289.4 468.8,290.8 470.3,293.1 469.4,295 472,295 473.4,298.7 476.5,300.7 476.1,303.6 476.2,308.7 474.5,307.9 472.5,309 470.5,307 466,303 462.3,299.3 460.4,294.9 458.6,292.2 456.6,289.4 456,287.2 453.2,285.7 450.9,282.2 448.4,280.4 446.4,278ZM474.2,311.4 476.5,309 478.9,309.6 482.2,310.2 483.9,311.3 489,312 490.7,310.4 493.6,311.9 495.7,312.7 499.3,314.2 500.4,315.6 500.4,317.2 496.4,315.9 490.7,315.7 485,314.3 482.2,314.5 477.9,313.3 477.9,312.2ZM500.7,315.6 502.7,315.3 504.1,316.2 502.7,317.3ZM505,316.2 506.9,315.9 506.9,317.6 505,317.6ZM507.2,316.5 510.1,315.3 513.5,315.9 514.1,317 510.6,317.6 507.8,317.9ZM516,316.2 519.2,316.2 524.6,315.3 524.9,316.2 522,317.3 517.8,317.3 516,317.3ZM513.5,319.3 516.3,318.8 518.6,320.8 516.9,321.7 514.1,320.2ZM526.3,321.7 527.7,319.1 530.6,317.6 534.8,316.2 537.1,316.2 534.8,317.9 530.6,319.6 528.3,321.4ZM515.8,289.9 518.6,288.5 522,289.4 526.3,289.6 530,287.6 531.1,288.2 528.8,291.1 524.9,290.9 520.6,290.9 517.8,291.1 516.3,293.6 518.3,296.2 520.6,294.8 524.3,294.8 526,294.8 523.4,296.8 521.5,297.6 522.9,300.7 524.6,303.6 525.4,305.9 523.7,308.2 522,305.9 520.6,303.6 519.2,299.9 518.6,299.9 517.5,302.2 517.5,305.9 517.2,307.9 514.9,307.9 514.6,303.6 512.9,300.2 514.3,296.5 515.8,294.2 515.8,291.6ZM537.7,289.4 539.1,285.9 541.1,287.9 539.7,289.9 541.4,291.3 539.9,294.5 538.8,293.1 538.2,290.8ZM539.1,300.7 543.4,300.2 547.1,301.6 544.8,302.4 540.5,302.2ZM533.4,301.3 536.2,301 536.8,302.4 534.3,303ZM548.3,294.6 551.9,293.2 556.4,294.6 557,297.9 557.6,300.2 560.4,301.7 563.3,298.5 566.1,296.5 569.8,297.6 575.2,299.5 576.9,299.9 583.6,302.3 590.3,305 590.3,316.5 582.3,318 580.3,318.5 576.1,318.2 574.2,316.5 570.4,315.3 567.5,316.2 569.2,312.2 567.5,307.9 564.7,306.2 561.6,305 557.6,303.6 555.3,302.4 552.7,303.6 551.3,300.5 554.7,299.3 550.5,297.9 547.6,296.2ZM499.7,355.8 497.8,361 497.6,364.1 497.8,368.8 499.8,373.6 501,377.8 502.1,382.7 504.2,388.4 503.8,393.4 502.1,393.6 502.5,396.3 506.4,398.6 510.4,398.8 514.9,396.5 521.7,394.6 526.3,394.8 529.1,391.7 533.4,389.4 541.6,387.4 548.2,386.7 555.3,388.9 556.7,391.7 559,396.9 561.6,397.7 564.7,394.1 567,390 566.1,395.1 564.7,399.3 569,398.2 567.8,400.7 571.8,409.2 593.1,409.2 593.1,334.8 584.6,333.6 583.2,331.8 582.3,326.6 580.3,322.8 578.5,328.5 577.8,332.4 577.5,336.8 575.5,342.8 572.1,343.1 567.5,340.1 564.7,337.7 561.6,335.4 560.1,334.5 561.8,331.5 564.4,327.5 561.8,326.6 559,326.9 554.7,326 552.2,324.6 550.5,324.1 549,327.2 547.2,327.9 544.8,331 543.6,335.1 539.9,334.8 536.2,332.1 533.4,332.4 530.6,336.2 528.8,339.2 526.6,342.2 524.6,339.5 522.6,344.1 520.6,347.3 516.3,350 512.4,351.2 507.2,352.4 502.4,355.3 500.1,357.6ZM199.5,158.4 201.7,156.5 202.2,159.6 201.5,162.6 200,162.2 199.5,160.3ZM198.3,164.5 201.2,163.2 202.9,166 202.3,170.8 200.6,171.6 198.9,171.6 198.9,167.9ZM210.3,175.9 212.8,174.5 217.7,174.6 219.5,174.1 218.2,178.1 218,179.8 215.7,178.8 212,177.3 210.6,176.6ZM241.8,184.8 243.8,183.7 247,184.4 249.8,184.9 249.5,185.8 245.5,186 242.1,185.1ZM266.9,185.8 268.9,184.6 271.4,184.4 273.4,183.4 271.6,185.6 268.9,187.2 267.2,186.7ZM181.5,169.3 183.8,168.1 185,169 183.8,170.5 182.4,170.1ZM240.4,171.9 241.8,171.6 245,174.8 244.7,175.4 242.1,173.4ZM206.6,100.6 208.6,99.1 210.8,98.8 210.8,101.1 209.7,102.6 209.4,104.3 208.3,103.6 206.9,103.1ZM202.9,101.6 204.9,101.1 205.7,102.6 205.4,103.8 203.7,103.6ZM206.3,105.1 208.8,104.3 209.4,105.6 207.7,105.8ZM226.5,92.3 228.5,89.2 229.3,89.7 228.5,92.3 227.3,94.2ZM221.6,98 223.1,93.9 223.6,92.1 222.5,96ZM237,87 238.4,85.4 240.4,85.4 241.3,86.2 239.6,87.5 237.9,88.6ZM237.9,83.7 239.3,82.6 240.4,83.5 239.6,84.8ZM312.4,17.5 314.4,13.5 316.9,15.9 316.1,19.1 313.8,19.5ZM321.5,-20 321.5,-3.6 324.3,0.8 327.2,4.3 331.4,4.3 337.1,4.3 338.8,0.8 337.1,-3.6 337.1,-20ZM342.8,11.8 344.2,6.9 346.8,9.4 345.7,12.3ZM326.6,256.4 328.6,255.8 330,256.2 328.6,256.8ZM170.4,78.1 171.3,73.5 172.4,73.5 171.9,77.6ZM153.7,93.9 154.5,90.2 157.1,86.2 157.4,87.5 155.4,90.2 154.5,93.9ZM154,65.8 155.7,63.7 156.8,64.6 155.4,68.8ZM438.7,253.4 439.5,253.7 439.5,257.8 438.7,261.9 438.1,259.3ZM199.2,281.7 200.3,281.7 200,283ZM126.9,207.9 128.9,207.4 128.1,209.2ZM130.1,208.9 131.2,208.9 130.9,210ZM134.3,208.9 135.7,206.9 136.6,205.3 135.5,207.9ZM338,350.9 339.1,350.3 339.4,351.5 338.3,351.8ZM332.3,353.3 333.4,353 333.7,354.2 332.6,354.4ZM286.5,308.4 287.1,309 287.5,310.6 286.8,310.2ZM474.2,296.8 476.5,296.5 478.5,299.3 478.2,300.7 476.5,299.3ZM481.1,299.6 482.8,299.9 482.8,301.3 481.3,301.3ZM534,191.6 536,191 536,191.6 534.3,192ZM-1.1,261.6 1.8,261.2 1.5,263.3 -1.1,263.5Z"/>
<path fill="none" stroke="#c8a4cc" stroke-opacity=".55" stroke-width=".9" stroke-linejoin="round" d="M168.7,185.5 170.2,189.3 171.6,194.4 166.5,196.7 164.8,199.7 160.8,203.3 155.1,204.3 150.3,206.9 150.3,211.4M150.3,210.2 137.5,210.2M150.3,211.4 150.3,215.6 140.9,215.6 140.9,223.6 138,224.9 137.7,230.1 126.6,230.1M150.3,211.4 161.3,218.7 178.3,230.8 178.4,232 184.1,234.7 184.4,237.1 187.1,236.7 191.5,235.8 196.3,231.5 209,223.4M209,223.4 207.7,220.9 204,220 201.7,214.9 203.2,212.4 202.9,208.2 203.2,203.3 202,202M202,202 200.7,195.7 198.6,194.4 196.3,189.9 198.3,187.2 198.6,183.4 199.5,179.1M202,202 204,199.7 204.3,197 207.7,194.7 207.7,192.2M246.7,197.4 245.8,201 246.1,205.3 246.1,228 246.1,234.1 243.3,234.1 243.3,235.6M243.3,235.6 220.5,223.6 217.7,224.9 215.4,226.2 209,223.4M246.1,228 280,228M243.3,235.6 243.3,247 240.1,247.6 239,251.4 237.6,255.8 240.1,259.6 240.1,261M217.7,224.9 219.1,231.1 219.4,234.4 219.1,243.4 213.4,250.5 213.7,252.9M161.3,218.7 156.5,218.8 159.1,244.6 159.9,247.6 148.5,247.6 144.6,247.9 142.3,247.3 140.3,249.6M187.1,236.7 186.9,244.6 185,247.9 178.7,248.2 175.6,249.2M213.7,252.9 210.6,254.6 203.4,254 197.2,254 192.1,252.9 186.7,253.4 185.2,258.7M175.6,249.2 173,248.7 169.3,251.4 166.5,252.9 162.8,254.3 162.5,256.9 159.9,258.4 159.4,262.5M175.6,249.2 176.1,252 177.8,254.9 181.3,256.7 181.8,258.1 185.2,258.7M185.2,258.7 185.8,262.2 182.7,266.5 182.7,274M177.6,260.7 179.6,266.5 179.7,274.5M174.7,260.4 176.1,263.6 176.4,269.4 177,272.5 178.4,274.8M159.4,262.5 161.6,264.5 166.5,263.9 167.3,265.1M167,260.7 174.7,260.4 177.6,260.7 181.8,258.1M167,260.7 167.3,265.1 167.3,269.4 165.9,272.8 166.8,277.7M159.4,262.5 157.4,262.2 152.2,263 151.4,260.7 149.7,257.2 146.6,257.2 142.6,256.7 142.6,254.9 140.3,249.6M140.3,249.6 136.6,245.8 133.8,244.3 129.5,244.6 128.1,246.1M142.6,256.7 136,256.1 127.5,256.8M136,256.1 136,258.7 133.2,259.3 132.3,260.7M127.5,253.1 132,252.6 135.7,253.4 135.7,254.3 131.2,254 127.5,254.6M137.2,266.5 139.4,263.9 143.1,263.6 144.8,266.2 145.7,267.9 142.3,272.5M145.7,267.9 148,268.2 148.5,271.1 150.8,270.5 151.1,273.7 153.7,275.7 153.7,279.7M150.8,270.5 152.2,267.9 153.1,265.3 152.2,263M199.2,278.8 200.6,275.7 202.9,272.8 206.3,273.4 208.6,271.7 211.4,267.6 214,261 215.4,256.7 215.1,254.9M215.4,254.6 217.4,257.2 218,260.7 219.7,263.6 214.8,263.9 219.1,270.8M219.1,270.8 216.5,274.5 216.2,278 217.7,280.8 220.8,285.9 221.1,287.4 216.2,285.9 212.8,285.9 207.3,285.9 202.9,285.7M207.3,285.9 207.3,289.4 202.9,289.4M212.8,285.9 212.8,288.5 215.7,288.5 216.2,293.6 214.5,298.7 210.6,298.7 208.6,302.2 206.6,303.3M209.7,306.4 212.3,305.3 216,306.2 218.5,304.4 220.5,301.6 221.1,297.9 225.3,293.6 225.9,289.4 226.5,285.7 227.9,282.2M220.8,285.9 224.8,282 227.9,282.2 227.9,280 230.5,277.7 233.3,279.1 239,280.5 240.1,278.5 244.4,277.7 247,278 252.9,277.7M219.1,270.8 221.9,270.2 227.6,269.4 229,266.5 234.7,264.5 240.1,261M240.1,261 242.4,267.4 243.8,267.4 246.7,270.2 252.9,277.7M243.3,267.4 244.7,264.2 250.4,265.1 254.6,265.6 257.5,264.5 260.3,262.7 263.2,264.2 266,257.8 269.4,257.2 269.2,261.6 271.4,265.1M284.8,240.1 280.2,243.1 278.8,248.4 278.8,251.1 278,254.9 276.3,256.4 274.3,260.7 272.6,262.2 271.4,265.1 269.4,268.2 268.9,269.9 273.1,273.1 275.4,276.8 277.1,279.1M277.1,279.1 280,279.7 283.4,282 287.4,282.5 291.1,280.2 294.2,281M294.2,281 296.7,280 299.3,278.2 303,278.1 305.8,275.4 311.5,269.4 308.7,269.4 300.2,266.6 297.3,263.9 296.7,260.9 298,259.4M296.7,260.9 293.9,260.7 293.9,258.7 295.6,256.5 297.6,255.8M278.8,251.1 282.8,249.6 285.9,250.2 289.3,250.8 292.2,253.4 295.6,256.5M294.2,281 291.6,283.9 291.6,292.2 291.6,294.8 293.2,296.9M286.5,305.4 282.2,301 271.7,295 271.4,291.9 272.8,289.9 273.1,289.1 274.6,286.8 272.8,282 271.7,280.2 277.1,279.1M271.7,280.2 270.3,281.5 266,282 263.2,281.7 262.8,282.2 252.9,277.7M262.8,282.2 262.3,285.4 264,286.1 261.8,288.8 260,290.8 259.2,293.6 259.2,296.2 257.5,299.9 258.1,304.7 258.9,307.9 259.2,311.3 262.3,315.6M259.2,296.2 261.8,295.2 271.7,295M261.8,295.2 262.6,299 261.5,300.5 262.6,301.6 260.3,304.7 258.6,304.9M257.5,299.9 260,299.9 261.8,299M262.3,315.6 266,317.9 268.6,319.1 271.4,319.9 271.7,319.3 273.4,325.4M273.4,325.4 276.8,325.1 281.7,325.7 284.5,324.8 289.9,322.2M273.4,325.4 274.3,331 277.1,335.1 276.8,338.3 275.4,341.6 272.8,339.2 272.6,335.4 273.1,333.9 270.6,334.2 269.4,332.4 268,331.3 268.9,328.3 269.7,323.1 268.6,319.1M262.3,315.6 257.2,316.2 256.1,318.5 256.6,322.8 255.8,326.3 257.5,327.7 259.8,327.2 259.8,330.8 257.2,330.1 255.8,328 253.2,327.5 249,326.3 247,324.3 244.4,324.8 243.3,323.4M243.3,323.4 238.4,324.3 238.1,320.8 237,313 233.3,313 232.7,311.9 230.5,312.2 229,315 224.8,315.3 222.2,309 212,309 210,309.3M243.3,323.4 243.3,329.5 237.6,329.5 237.6,338.9 241.6,343.1M208.4,342 212,341.3 214.8,342.5 227.3,342.5 235.9,344.3 241.6,343.1 245.8,342.8 247,343.7M247,343.7 243.3,344.9 241.3,344.3 234.7,345.2 234.7,356.4 231.9,356.4 231.9,364.9 231.9,376.5 229,378.1 224.8,377.5 221.8,377.2M231.9,364.9 234.2,371.4 237.6,370.7 240.4,366.6 247.5,367.6 251.5,363.5 251.8,361.3 258.6,356.8M247,343.7 249,347.3 253.8,351.8 258.6,356.8 264,357.6M247,343.7 250.9,344.3 253.5,341.9 257.2,338.2 261.5,337.3 260.9,335.4 269.4,332.4M261.5,337.3 264,338.3 268.6,340.4 268.9,342.5 268,347 268.6,349.4 267.4,354.2 264,357.6 266,364.1 265.9,368.7 266.3,371.5 268.6,371.5M265.9,368.7 264,368 262.6,371.4 264,373 266.3,371.5M251.8,380.4 254.1,378.1 256.6,377.2 258.6,379.8 258.1,381.7 255.2,384 252.9,382.7 251.8,380.4M272.4,198.4 274.3,204.3M274.4,204.3 275.7,199.4 276.1,194.7 276.4,193.7 277.1,191.6 274.8,192.3M277.1,191.6 279.1,188.6 278.3,187 277.3,187M274.4,204.6 277.4,205.3 279.4,203.2 281.7,202.7 283.1,201 280.2,197.7 285.9,196 286.5,195.5M276.4,193.7 279.7,195 285.4,191.3 286.5,195.5M285.4,191.3 291.6,187.9 292.2,184.1 292.8,180.5 295.5,178.4M277.8,182.8 279.1,179.5 283.1,179.5 288.8,179.5 295.5,178.4 302.4,178.2M302.4,178.2 301,174.1 300.2,170.1 302.4,169M302.4,169 299.3,167.5 298.7,163.7 295.9,162.2 293.2,162.2M288.8,154.9 294.5,155.7 299.6,158 303.6,158.4 307,160.7 309.5,163 313.2,161.1M298.7,163.7 303,163 307,160.7M303,163 304.7,164.9 307.3,169.7 306.1,171.9M302.4,169 306.1,171.9 308.7,170.5 311.5,169.3 314.1,173.6M302.4,178.2 303,182.3 305.8,183.4 304.1,189.3 305.8,192.7 310.1,196 310.7,199.4 311.5,201 313.1,202.8M307.4,205.6 309,202.7 311.4,202.7M307.4,205.6 310,205.9 310.7,207.4 312.7,207.4M286.5,195.5 289.9,196.4 294.8,199 302.1,205.3 307.4,205.6M296.7,244.9 298.2,241.9 300.2,241.9 307.8,242.2 310.1,242.8 314.7,238.3 322.9,237.1M322.9,237.1 331.4,234.1 333.3,228 332,225.9 324.6,225.1 321.8,221.5M332,225.9 333.7,221.2 334.3,219 335.3,216.8M322.9,237.1 326,244.2M319.5,219.5 320.9,220.3M250,161.5 250.7,163 249.1,165.1M254.6,160.5 251.8,160.3 250,161.5M328.3,177.5 330.9,177.3 334.3,174.8 337.7,174.5 341.4,176.4 344.2,178.1 347.1,180.2 349.1,180.2 349.1,183.7M349.1,183.7 347.4,188.2 347.1,190.3 348.2,197.7 350.8,199.4 348.1,203.2M348.1,203.2 350.8,207.2 353.6,208.5 353.6,211.7 355.1,213.7 350.2,218.1M348.1,203.2 352.8,204.6 357,204.6 363.6,203 363.9,199.7 368.4,197 372.1,196.4 372.7,192.7 374.1,191.6 376.7,189.3 377.2,187.9 378.7,184.4 377.5,182 381.2,179.5 385.5,179.5 388,178.1M349.1,183.7 352.2,184.8 354.5,183 358.5,181.3 361.6,177.3 364.2,177.5M364.2,177.5 367.9,178.1 368.4,178.8 372.1,178.4 374.7,176.6 375,174.1 377.8,174.1 378.7,178.8 382.1,178.1 384.9,177.3 388,178.1M369,222.8 370.7,220.9 374.1,221.2 377,220.6 375.8,216.5 374.4,213.7 372.7,212.4 375.2,209.2 379.5,209.3 382.4,205.9 383.8,203 386.9,199.4 387.2,196.4 389.5,195 386.3,193.3 385.5,192 385.2,189.3 385.5,186.8 390.3,187.5 394,185.8 396.3,184.1M388,178.1 390.6,179.8 393.2,183.4 396.3,184.1 398.9,187.9 399.7,194.4 398.9,198.7 403.1,200.7 405.4,202M405.4,202 408.5,201.7 413.6,205 417.3,207.2 419.6,209.2 425.6,209.5M405.4,202 402.8,206.6 406,207.9 411.9,211.1 415.9,211.7 419.1,213.7 423.3,214.3 425.6,214 425.6,209.5 427.6,211.4 430.4,208.5 435.6,209.5 439.5,206.9 445.2,205.3 449.2,205.9 451.8,208.5M427.6,211.4 427.9,212.7 431,213.2 437,212.7 435.6,209.5M451.8,208.5 450.9,211.7 445.8,215.3 444.4,218.1 442.7,222.2 440.7,222.2 440.4,227.4 438.4,228.3 437.5,231.1M426.4,214 428.2,214.6 430.4,215.9 430.4,218.1 437.8,218.7 437.3,220.9 434.4,221.5 434.7,224.9 437.5,222.8 438.4,228.3M426.4,214 425.9,216.2 427.9,218.1 425.3,219.7 427.3,221.2 427.6,224.9 428.4,228M451.8,208.5 455.7,210.5 455.7,215.9 452.6,219.3 452.6,222.2 456.3,224.3 458,225.3 457.2,227.7 459.7,229.6 462.7,229.3 462.9,230.5 459.7,233.1M459.7,233.1 456.6,234.7 453.2,238.6 452,241.6 455.2,244.9 455.5,248.2 454.3,249 456.9,253.4 457.7,259 455.7,263M459.7,233.1 460.9,235.6 463.1,235.6 462.3,240.4 465.4,239.5 467.1,240.4 470.8,239.2 473.1,241.9 473.1,245.2 475.4,247.3 475.1,250.5 474.2,251.1M474.2,251.1 468,251.4 466.6,253.1 466.3,255.5 467.7,258.7M474.2,251.1 476.5,250.8 480.8,249.9 481.1,253.4 480.8,256.9 477.6,258.7 476.2,260.7 472.1,262.5M480.8,249.9 481.1,248.2 479.9,246.1 478.2,244.3 475.1,240.7 472.5,236.2 470.8,235 473.7,234.1 471.4,231.4 468,231.7 465.7,226.8M462.9,230.5 464.6,230.5 465.7,226.8 469.4,226.2 473.1,225.3 474.8,224 478.5,225.6 478.5,228 481.9,229.6M459.7,273.7 462.3,275.7 462.6,276 465.4,274.5M486.9,286.4 487,287.9 489.3,289.6 493,289.4 494.1,288.2 496.4,287.9 500.7,287.9 501.5,286.5 502.4,283.9 503.5,282.2 503.8,280.2 509.5,280.2M576.1,299.6 576.1,318.2M527.9,318.9 530.4,317.8 530.8,319.1M424.7,131 427.6,135.3 431.3,137 433.8,142.4 433.6,147.8 441,149 446.4,151.4 449.2,157.6 459.4,158 464.6,158.4 473.7,161.9 480.8,158.8 486.5,158.4 493,153.7 493.3,148.6 498.1,149.4 502.1,146.9 506.7,143.3 508.9,142 515.5,142 516,140.4 512.1,137 510.1,136.2 505,136.2 504.4,134.9 506.9,128.4M424.7,131 430.1,128.4 436.7,123.9 443.2,124.8 451.8,128.4 454.6,125.3 453.8,118 456.6,118.4 465.7,121.7 466,124.8 473.7,125.7 478.5,126.2 483.6,130.6 489.9,131 495.9,129.7 500.1,126.2 506.9,128.4M506.9,128.4 510.1,129.7 514.1,127 516.3,120.7 518.3,116.1 516.3,114.7 519.2,112.3 526.6,111.4 532.3,113.8 537.7,126.6 537.7,128.4 544.8,132.3 546.5,135.7 547.6,137.4 551.9,137.4 558.1,134.9 556.2,140.4 553.6,148.2 548.5,149 547.6,154.5 546.5,158.8M546.5,158.8 543.9,158.8 539.1,160.3 536,161.1 528.8,167.9M535.4,175.9 540.2,173M314.4,142.9 312.1,137.4 309,137 308.1,134.5 312.7,128.4 313.5,124.8 319.5,119.8 324.3,120.7 330,123 334.3,124.8 341.4,122.6 345.7,123.9 349.9,121.7 345.7,118.4 350.2,113.8 348.5,109.5 361.3,106.1 371.3,102.1 376.4,102.6 377.5,108 383.8,109 385.5,110.9 392.6,109 396.6,112.3 402.6,123.9 411.1,123 417.3,129.2 421.9,128.4 423.3,131.4M424.7,131 418.2,140 411.1,139.5 409.1,146.5 403.1,148.6 404.8,155.7 403.1,159.6 396.9,163.7 393.7,164.1 388.3,166 384.9,168.6 384.4,170.1 385.5,173.4 388,173.7 388,178.1M324.3,161.1 328.6,159.2 334.3,163 334.3,148.6 341.7,146.1 348.5,151.4 351.4,154.5 359.6,153.7 363,156.5 362.7,160.3 364.2,163.4 368.4,164.1 374.1,160.3 377,159.2 384.1,158.8 384.4,156.5 390.6,156.9 399.7,157.2 403.1,159.6M334.3,163 337.1,163 341.4,157.6 345.7,159.6 346,162.6 351.1,163.7 352.8,167.9 358.5,171.9 364.2,177.5M149.7,160.7 151.7,159.9 156.2,160.7 157.4,161.9 155.4,164.1 155.4,167.1 155.1,169 153.7,169.3 155.1,171.6 154.5,174.5 155.1,175.2 153.7,177 154,178.1M169.9,155.1 173,156.9 177,157.2 179.8,158.4 184.1,158.6M196.3,153.3 194.9,151.4 194.6,148.2 194.9,144.9 194.3,145.1 192.6,143.3 192.4,143.9M194.9,144.9 197.5,144.7 199.2,142.9 200.6,145.1 201.5,142.9 203.7,143.3 204.7,141M192.4,143.9 192.1,142 194.9,138.3 196.6,137.9 199.5,137 202.3,138.3 202.3,140.2 204.7,141M196.6,137.9 196.6,134.9 198.3,131.9 194.1,131 192.4,129.7 191.5,129.5M182.3,122.6 183.8,123.9 186.9,127.5 188.7,126.8 191.5,129.5 192.4,127 192.1,124.1 191.2,123.9 191.8,122.6 189.2,121 186.9,121.2 184.7,121.4M192.1,124.1 192.6,121.2 191.9,119.1 194.3,118.7 195.1,117.1 195.5,112.3M199.5,104.6 201.7,105.1 203.2,105.1M215.5,109.5 216,112.8 215.1,114.5 216.8,118 217.5,122.6 217.1,123.7M209.4,126.2 210.6,125.7 213.4,124.4 215.7,123 217.1,123.7 219.9,124.4 221.4,125.7 223.1,125.7 225.3,126.2 228.5,129.7 230.5,129.5 232.2,131 239,131.4M209.4,126.2 210.8,129.7 214.3,132.9 212,134.9 211.7,137.2 212,138.3 209.7,137.9 204.7,138.1 202.3,138.3M214.3,132.9 216.8,133.6 217.7,131.9 220.8,132.9 223.2,133.6 223.4,135.7 223.9,136.2M223.2,133.6 223.9,132.5 226.5,131.4 228.5,129.7M223.9,136.2 225.9,137.2 228.5,137 231.6,135.5 233.3,134 236.7,134.7 238,134.5 239,131.4M223.9,136.2 220.8,141 222.1,142.4 223.1,143.3 224.2,144.7 228.5,144.9 229,144.7 232.6,143.9 234.7,143.5 237.6,138.3 240.1,136.2 238,134.5M204.7,141 209.6,140.4 210.3,141.6 214,142.4 216.5,142.9 220.8,141M214,142.4 213.1,143.7 213.7,145.3 214.1,146.1M213.7,146.7 216,146.5 218.5,146.5 219.7,145.1 222.1,142.4M219.8,149.4 221.4,148.6 223.4,147.8 227.1,148.2 229,149 230.2,149 229.3,147.8 229,144.7M219.8,149.4 221.1,151.8 224.2,154.7 225.2,156.3 227.5,158.2 227.8,158.8M230.2,149 229.5,151.4 230.8,152.5 229.6,154.5 228.2,155.5 227.5,158.2M229.6,154.5 232.9,157.1 232,158.2 229.9,159.6 230.2,160.9M232,158.2 233.6,160.7 233.2,162.2 234,164.5 234.7,164.7 233.9,167.5 231.9,169M232.9,157.1 234.2,155.5 237,157.8 236.3,159.4 233.6,160.7M236.3,159.4 238.6,159.2 240.3,162.8 239.7,163 234.7,164.7M238.6,159.2 239,157.2 238.9,154.9 239.6,151.8 239,149.8 235.9,149.4 234.7,143.5M239.6,151.8 240.4,153.3 244.1,153.7 247.5,153.9 251.8,152 256.2,153.5M240.3,162.8 244.7,162.2 249,163 250,161.5M240.1,136.2 245.8,137.2 250.7,135.1 254.1,140 255.2,146.5 259.2,147.3M250.7,135.1 253.8,134.2 257.8,136.6 260.6,142.9 257.5,143.7 255.2,146.5M239,131.4 239.6,129.2 243.3,123.9 242.1,120.7 242.1,115.7 243,109.5 241.8,109 239.9,107 231.3,106.8M242.1,120.7 246.1,118.9 252.4,120.3 258.3,121.2 261.9,121.7 263,118.2 265.5,118M265.5,118 271.1,116.8 275.7,123 276.5,125.7 283.1,127.9 288.8,129.2 288.2,132.7 288.2,136.6 283.9,137.9 283.7,140M265.5,118 264.6,112.8 268,111.6 263.7,106.1 262.6,101.1 255.2,98.3M243,109.5 248.1,107.5 251.2,102.6 250.7,100.6 255.2,98.3M239.9,107 239.9,104.6 239.3,103.8 235.6,102.8M234.9,98.6 237.6,97 245.8,97 250.7,100.6M255.2,98.3 253.8,91.8 252.8,91 249,89.4 246.7,88.3 244.3,89.2M252.8,91 253.8,89.4 252.9,84.3 254.9,81M256.6,73.5 257.5,70.6 260.3,66.7 264.6,60.3 260.6,55.9 261.8,52 259.2,47.4 260.6,41.9 258.1,33.4 260.3,27.5 256.1,23.7 257.2,17.1 262.6,11M257.2,17.1 258.3,13.5 254.6,8.5 249,10.2 248.1,15.9 245.8,20.6 240.4,19.9 236.4,15.1 233.5,17.1M243.7,41.2 242.3,37.7 243,34.1 241.8,26 236.2,19.9 233.5,17.1M233.5,17.1 231.9,22.2 226.5,21.4 225.9,25.6 222.5,26 220.8,32.7 218.8,36.3 216.2,39.1 216.5,44.7 213.8,49.4 215.1,50.4 214.5,53.3 211.1,53.3 209.1,57.8 209.7,67.6 211.7,69.7 209.7,71.8 210.8,74.7 210.6,77 208.6,78.4 208.3,83.2 206.6,82.6M23.1,394.1 22.8,390 16.8,384.5 11.2,382.4M11.2,382.4 9.5,390 8.9,395.1M11.2,382.4 16,376.5 22,372.5 19.7,367.6M19.7,367.6 16,373.1 8.3,372.8 11.2,367.6 7.7,365.1 1.5,361.9 -3.1,357.1M19.7,367.6 20.7,362.7 17.4,362.4 16.8,358.2 10.3,356.7 10.6,353 9.6,350.7M9.6,350.7 6.9,348.3 -0.5,349.2 -2.2,351.9 -3.1,357.1M9.6,350.7 10.4,347.3 11.4,344.9 8.9,342.2 9.2,339.2 3.8,339.1 2.9,335.7 3.6,331.8 -0.8,331 -4.2,328.3M-3.1,357.1 -7,356.4M2.3,277.4 4.3,278 4.9,279.7 5.6,281.1 4.6,285.7 7.2,288.5 8.6,288.5 12,286.7 14.3,286.7 16,286.5 19.7,285.7 24.2,285.9 25.4,285.1 27.9,280.8M12.6,275.1 12,277.1 10.3,278.8 9.9,280.8 11.2,282.5 12,282.8 12.9,284.8 14.3,286.7M21.4,275.7 20.1,278 20.8,282.2 19.7,285.7M4.9,268.5 2.3,270.8 3.5,272.2 1.2,273.1 0.4,275.4 2.3,277.4 1.5,279.4 -3.3,280.8 -7,280.5"/>
<g class="mk">
<circle cx="10.6" cy="397.2" r="14.5" fill="#ffff00" fill-opacity=".8"/>
<circle cx="153.4" cy="256.2" r="14.5" fill="#ff7e00" fill-opacity=".8"/>
<circle cx="184.0" cy="179.8" r="14.5" fill="#ffff00" fill-opacity=".8"/>
<circle cx="236.7" cy="158.0" r="14.5" fill="#ffff00" fill-opacity=".8"/>
<circle cx="228.1" cy="153.3" r="14.5" fill="#00e400" fill-opacity=".8"/>
<circle cx="268.1" cy="291.5" r="14.5" fill="#ff7e00" fill-opacity=".8"/>
<circle cx="286.2" cy="266.5" r="14.5" fill="#ff7e00" fill-opacity=".8"/>
<circle cx="286.2" cy="266.5" r="14.5" fill="#999999" fill-opacity=".8"/>
<circle cx="302.3" cy="191.8" r="14.5" fill="#00e400" fill-opacity=".8"/>
<circle cx="277.8" cy="196.4" r="14.5" fill="#ffff00" fill-opacity=".8"/>
<circle cx="312.0" cy="205.2" r="14.5" fill="#00e400" fill-opacity=".8"/>
<circle cx="330.2" cy="220.7" r="14.5" fill="#ffff00" fill-opacity=".8"/>
<circle cx="333.0" cy="218.1" r="14.5" fill="#ff7e00" fill-opacity=".8"/>
<circle cx="318.9" cy="215.1" r="14.5" fill="#ff7e00" fill-opacity=".96"/>
<circle cx="341.6" cy="175.6" r="14.5" fill="#ffff00" fill-opacity=".8"/>
<circle cx="378.8" cy="122.6" r="14.5" fill="#00e400" fill-opacity=".8"/>
<circle cx="372.8" cy="162.9" r="14.5" fill="#ff0000" fill-opacity=".8"/>
<circle cx="387.6" cy="157.3" r="14.5" fill="#00e400" fill-opacity=".8"/>
<circle cx="394.4" cy="155.8" r="14.5" fill="#999999" fill-opacity=".8"/>
<circle cx="370.8" cy="173.3" r="14.5" fill="#999999" fill-opacity=".8"/>
<circle cx="383.6" cy="190.4" r="14.5" fill="#ff7e00" fill-opacity=".8"/>
<circle cx="371.8" cy="187.6" r="14.5" fill="#ff0000" fill-opacity=".8"/>
<circle cx="379.4" cy="189.5" r="14.5" fill="#ff0000" fill-opacity=".8"/>
<circle cx="386.8" cy="197.7" r="14.5" fill="#ff0000" fill-opacity=".8"/>
<circle cx="395.4" cy="207.4" r="14.5" fill="#ff0000" fill-opacity=".8"/>
<circle cx="366.2" cy="219.4" r="14.5" fill="#ff0000" fill-opacity=".8"/>
<circle cx="433.0" cy="222.7" r="14.5" fill="#ff0000" fill-opacity=".8"/>
<circle cx="426.2" cy="226.5" r="14.5" fill="#92207f" fill-opacity=".8"/>
<circle cx="418.2" cy="210.2" r="14.5" fill="#ff0000" fill-opacity=".8"/>
<circle cx="382.6" cy="237.1" r="14.5" fill="#ff0000" fill-opacity=".8"/>
<circle cx="398.7" cy="242.0" r="14.5" fill="#ff7e00" fill-opacity=".8"/>
<circle cx="403.9" cy="255.0" r="14.5" fill="#ff0000" fill-opacity=".8"/>
<circle cx="402.7" cy="272.7" r="14.5" fill="#ff0000" fill-opacity=".8"/>
<circle cx="479.4" cy="136.7" r="14.5" fill="#999999" fill-opacity=".8"/>
<circle cx="471.2" cy="200.8" r="14.5" fill="#ffff00" fill-opacity=".8"/>
<circle cx="506.3" cy="168.3" r="14.5" fill="#ffff00" fill-opacity=".8"/>
<circle cx="526.8" cy="161.4" r="14.5" fill="#ff7e00" fill-opacity=".8"/>
<circle cx="520.9" cy="198.9" r="14.5" fill="#ffff00" fill-opacity=".8"/>
<circle cx="476.8" cy="231.2" r="14.5" fill="#ffff00" fill-opacity=".8"/>
<circle cx="497.8" cy="224.8" r="14.5" fill="#ffff00" fill-opacity=".8"/>
<circle cx="478.9" cy="261.6" r="14.5" fill="#ffff00" fill-opacity=".8"/>
<circle cx="467.9" cy="240.5" r="14.5" fill="#ff0000" fill-opacity=".8"/>
<circle cx="448.7" cy="243.9" r="14.5" fill="#ff0000" fill-opacity=".8"/>
<circle cx="478.5" cy="311.1" r="14.5" fill="#ff7e00" fill-opacity=".8"/>
<circle cx="479.0" cy="310.5" r="14.5" fill="#ffff00" fill-opacity=".8"/>
<text x="10.6" y="400.5">53</text>
<text x="153.4" y="259.5">132</text>
<text x="184.0" y="183.1">57</text>
<text x="228.1" y="156.6">17</text>
<text x="236.7" y="161.3">30</text>
<text x="268.1" y="294.8">119</text>
<text x="286.2" y="269.8">N/A</text>
<text x="286.2" y="269.8">N/A</text>
<text x="302.3" y="195.1">29</text>
<text x="277.8" y="199.7">53</text>
<text x="312.0" y="208.5">7</text>
<text x="330.2" y="224.0">88</text>
<text x="333.0" y="221.4">116</text>
<text x="318.9" y="218.4">142</text>
<text x="341.6" y="178.9">65</text>
<text x="378.8" y="125.9">30</text>
<text x="387.6" y="160.6">17</text>
<text x="394.4" y="159.1">N/A</text>
<text x="372.8" y="166.2">159</text>
<text x="370.8" y="176.6">N/A</text>
<text x="383.6" y="193.7">147</text>
<text x="371.8" y="190.9">118</text>
<text x="379.4" y="192.8">187</text>
<text x="386.8" y="201.0">168</text>
<text x="395.4" y="210.7">179</text>
<text x="366.2" y="222.7">193</text>
<text x="433.0" y="226.0">162</text>
<text x="426.2" y="229.8">207</text>
<text x="418.2" y="213.5">161</text>
<text x="382.6" y="240.4">173</text>
<text x="398.7" y="245.3">142</text>
<text x="403.9" y="258.3">153</text>
<text x="402.7" y="276.0">152</text>
<text x="479.4" y="140.0">N/A</text>
<text x="471.2" y="204.1">68</text>
<text x="506.3" y="171.6">54</text>
<text x="526.8" y="164.7">143</text>
<text x="520.9" y="202.2">90</text>
<text x="476.8" y="234.5">87</text>
<text x="497.8" y="228.1">52</text>
<text x="478.9" y="264.9">59</text>
<text x="467.9" y="243.8">164</text>
<text x="448.7" y="247.2">152</text>
<text x="478.5" y="314.4">115</text>
<text x="479.0" y="313.8">84</text>
</g>
</svg>
<div id="popup" class="abs">Bishkek<br>2020-03-02 8:00<br>AM (LT)
<table id="ptab"><tr><th style="width:73px">Pollutant</th><th>AQI</th></tr><tr><td>PM2.5</td><td style="background:#00e400">17</td></tr></table>
</div>
</div>

<div class="abs lab" style="top:8px;">Select a City</div>
<div class="abs sel" style="top:45px;">Bishkek<span class="x">×</span><span class="ar"></span></div>
<div class="abs lab" style="top:98px;">Select a Parameter</div>
<div class="abs sel" style="top:135px;">PM2.5<span class="x">×</span><span class="ar"></span></div>

<div id="info" class="abs"><b>Bishkek</b>The Bishkek air quality monitor is currently undergoing routine annual maintenance. Data flow will resume when maintenance has been completed.</div>
<svg id="rss" class="abs" viewBox="0 0 35 35"><rect width="35" height="35" fill="#f0a93a"/><circle cx="8.5" cy="26.5" r="3.6" fill="#fff"/><path d="M5,15.5 A14.5,14.5 0 0 1 19.5,30" fill="none" stroke="#fff" stroke-width="4.6"/><path d="M5,6.5 A23.5,23.5 0 0 1 28.5,30" fill="none" stroke="#fff" stroke-width="4.6"/></svg>
<div id="note" class="abs">Note: Values above 500 are considered Beyond the AQI.<br>Follow recommendations for the Hazardous category.<br>Additional information on reducing exposure to extremely<br>high levels of particle pollution is available <a>here</a>.</div>

<div class="abs tab act" style="left:14px;width:106px;">AQI</div>
<div class="abs tab" style="left:123px;width:167px;">Concentration</div>
<div class="abs tab" style="left:293px;width:137px;">Historical</div>
<div id="tabline" class="abs"></div>
<div id="learn" class="abs">Learn more about how the Air Quality Index [AQI] is calculated from the EPA <a>here</a>.</div>

<svg id="chart" class="abs" width="690" height="309" viewBox="0 550 690 309">
<text x="348.7" y="583" text-anchor="middle" font-size="18" letter-spacing="-.2" fill="#333">Bishkek - PM2.5</text>
<text x="72.6" y="807.7" text-anchor="end" font-size="11" letter-spacing="-.4" fill="#111">0</text>
<path d="M87.5 768.5H673.5" stroke="#d8d8d8" stroke-width="1" fill="none"/>
<text x="72.6" y="770.9" text-anchor="end" font-size="11" letter-spacing="-.4" fill="#111">100</text>
<path d="M87.5 731.5H673.5" stroke="#d8d8d8" stroke-width="1" fill="none"/>
<text x="72.6" y="734.1" text-anchor="end" font-size="11" letter-spacing="-.4" fill="#111">200</text>
<path d="M87.5 695.5H673.5" stroke="#d8d8d8" stroke-width="1" fill="none"/>
<text x="72.6" y="697.3" text-anchor="end" font-size="11" letter-spacing="-.4" fill="#111">300</text>
<path d="M87.5 658.5H673.5" stroke="#d8d8d8" stroke-width="1" fill="none"/>
<text x="72.6" y="660.5" text-anchor="end" font-size="11" letter-spacing="-.4" fill="#111">400</text>
<path d="M87.5 621.5H673.5" stroke="#d8d8d8" stroke-width="1" fill="none"/>
<text x="72.6" y="623.7" text-anchor="end" font-size="11" letter-spacing="-.4" fill="#111">500</text>
<text transform="translate(42.3,709) rotate(-90)" text-anchor="middle" font-size="12" letter-spacing="-.2" fill="#111">AQI</text>
<rect x="93.5" y="776.5" width="12" height="29.0" fill="#ffff00" stroke="#000" stroke-width="1"/>
<rect x="118.5" y="778.5" width="12" height="27.0" fill="#ffff00" stroke="#000" stroke-width="1"/>
<rect x="142.5" y="782.5" width="12" height="23.0" fill="#ffff00" stroke="#000" stroke-width="1"/>
<rect x="167.5" y="785.5" width="12" height="20.0" fill="#ffff00" stroke="#000" stroke-width="1"/>
<rect x="191.5" y="788.5" width="12" height="17.0" fill="#00e400" stroke="#000" stroke-width="1"/>
<rect x="215.5" y="788.5" width="12" height="17.0" fill="#00e400" stroke="#000" stroke-width="1"/>
<rect x="240.5" y="793.5" width="12" height="12.0" fill="#00e400" stroke="#000" stroke-width="1"/>
<rect x="264.5" y="787.5" width="12" height="18.0" fill="#00e400" stroke="#000" stroke-width="1"/>
<rect x="289.5" y="786.5" width="12" height="19.0" fill="#ffff00" stroke="#000" stroke-width="1"/>
<rect x="313.5" y="784.5" width="12" height="21.0" fill="#ffff00" stroke="#000" stroke-width="1"/>
<rect x="337.5" y="781.5" width="12" height="24.0" fill="#ffff00" stroke="#000" stroke-width="1"/>
<rect x="362.5" y="770.5" width="12" height="35.0" fill="#ffff00" stroke="#000" stroke-width="1"/>
<rect x="386.5" y="769.5" width="12" height="36.0" fill="#ffff00" stroke="#000" stroke-width="1"/>
<rect x="411.5" y="777.5" width="12" height="28.0" fill="#ffff00" stroke="#000" stroke-width="1"/>
<rect x="435.5" y="783.5" width="12" height="22.0" fill="#ffff00" stroke="#000" stroke-width="1"/>
<rect x="460.5" y="785.5" width="12" height="20.0" fill="#ffff00" stroke="#000" stroke-width="1"/>
<rect x="484.5" y="789.5" width="12" height="16.0" fill="#00e400" stroke="#000" stroke-width="1"/>
<rect x="508.5" y="793.5" width="12" height="12.0" fill="#00e400" stroke="#000" stroke-width="1"/>
<rect x="533.5" y="798.5" width="12" height="7.0" fill="#00e400" stroke="#000" stroke-width="1"/>
<rect x="557.5" y="801.5" width="12" height="4.0" fill="#00e400" stroke="#000" stroke-width="1"/>
<rect x="582.5" y="801.5" width="12" height="4.0" fill="#00e400" stroke="#000" stroke-width="1"/>
<rect x="606.5" y="804.5" width="12" height="1.0" fill="#00e400" stroke="#000" stroke-width="1"/>
<rect x="655.5" y="799.5" width="12" height="6.0" fill="#00e400" stroke="#000" stroke-width="1"/>
<path d="M87.5 805.5H673.5M87.5 805.5v9.5M111.5 805.5v9.5M136.5 805.5v9.5M160.5 805.5v9.5M185.5 805.5v9.5M209.5 805.5v9.5M234.5 805.5v9.5M258.5 805.5v9.5M282.5 805.5v9.5M307.5 805.5v9.5M331.5 805.5v9.5M356.5 805.5v9.5M380.5 805.5v9.5M404.5 805.5v9.5M429.5 805.5v9.5M453.5 805.5v9.5M478.5 805.5v9.5M502.5 805.5v9.5M526.5 805.5v9.5M551.5 805.5v9.5M575.5 805.5v9.5M600.5 805.5v9.5M624.5 805.5v9.5M649.5 805.5v9.5M673.5 805.5v9.5" stroke="#c0d0e0" stroke-width="1" fill="none"/>
<text transform="translate(102.9,821) rotate(-45)" text-anchor="end" font-size="10.6" letter-spacing="-.3" fill="#666">9 AM</text>
<text transform="translate(127.3,821) rotate(-45)" text-anchor="end" font-size="10.6" letter-spacing="-.3" fill="#666">10 AM</text>
<text transform="translate(151.7,821) rotate(-45)" text-anchor="end" font-size="10.6" letter-spacing="-.3" fill="#666">11 AM</text>
<text transform="translate(176.2,821) rotate(-45)" text-anchor="end" font-size="10.6" letter-spacing="-.3" fill="#666">12 PM</text>
<text transform="translate(200.6,821) rotate(-45)" text-anchor="end" font-size="10.6" letter-spacing="-.3" fill="#666">1 PM</text>
<text transform="translate(225.0,821) rotate(-45)" text-anchor="end" font-size="10.6" letter-spacing="-.3" fill="#666">2 PM</text>
<text transform="translate(249.4,821) rotate(-45)" text-anchor="end" font-size="10.6" letter-spacing="-.3" fill="#666">3 PM</text>
<text transform="translate(273.8,821) rotate(-45)" text-anchor="end" font-size="10.6" letter-spacing="-.3" fill="#666">4 PM</text>
<text transform="translate(298.2,821) rotate(-45)" text-anchor="end" font-size="10.6" letter-spacing="-.3" fill="#666">5 PM</text>
<text transform="translate(322.7,821) rotate(-45)" text-anchor="end" font-size="10.6" letter-spacing="-.3" fill="#666">6 PM</text>
<text transform="translate(347.1,821) rotate(-45)" text-anchor="end" font-size="10.6" letter-spacing="-.3" fill="#666">7 PM</text>
<text transform="translate(371.5,821) rotate(-45)" text-anchor="end" font-size="10.6" letter-spacing="-.3" fill="#666">8 PM</text>
<text transform="translate(395.9,821) rotate(-45)" text-anchor="end" font-size="10.6" letter-spacing="-.3" fill="#666">9 PM</text>
<text transform="translate(420.3,821) rotate(-45)" text-anchor="end" font-size="10.6" letter-spacing="-.3" fill="#666">10 PM</text>
<text transform="translate(444.7,821) rotate(-45)" text-anchor="end" font-size="10.6" letter-spacing="-.3" fill="#666">11 PM</text>
<text transform="translate(469.2,821) rotate(-45)" text-anchor="end" font-size="10.6" letter-spacing="-.3" fill="#666">Mar 3, 2020 12 AM</text>
<text transform="translate(493.6,821) rotate(-45)" text-anchor="end" font-size="10.6" letter-spacing="-.3" fill="#666">1 AM</text>
<text transform="translate(518.0,821) rotate(-45)" text-anchor="end" font-size="10.6" letter-spacing="-.3" fill="#666">2 AM</text>
<text transform="translate(542.4,821) rotate(-45)" text-anchor="end" font-size="10.6" letter-spacing="-.3" fill="#666">3 AM</text>
<text transform="translate(566.8,821) rotate(-45)" text-anchor="end" font-size="10.6" letter-spacing="-.3" fill="#666">4 AM</text>
<text transform="translate(591.2,821) rotate(-45)" text-anchor="end" font-size="10.6" letter-spacing="-.3" fill="#666">5 AM</text>
<text transform="translate(615.7,821) rotate(-45)" text-anchor="end" font-size="10.6" letter-spacing="-.3" fill="#666">6 AM</text>
<text transform="translate(640.1,821) rotate(-45)" text-anchor="end" font-size="10.6" letter-spacing="-.3" fill="#666">7 AM</text>
<text transform="translate(664.5,821) rotate(-45)" text-anchor="end" font-size="10.6" letter-spacing="-.3" fill="#666">8 AM</text>
</svg>

<div id="cc" class="abs">
<div class="h"><div>Current Conditions</div><div style="font-size:12px;line-height:17.5px;position:relative;top:.8px;">observed at</div><div style="line-height:21px;">Mar 2, 2020 8:00 AM (LT)</div></div>
<div class="g">17 AQI<br>Good<br>PM2.5</div>
<div class="hm">Health Message</div>
<div class="p">The AQI value for your community is between 0 and 50. Air quality is satisfactory and poses little or no health risk.</div>
</div>
<div id="note2" class="abs">Note: Values above <b>500</b> are considered beyond</div>
</body>
</html>
